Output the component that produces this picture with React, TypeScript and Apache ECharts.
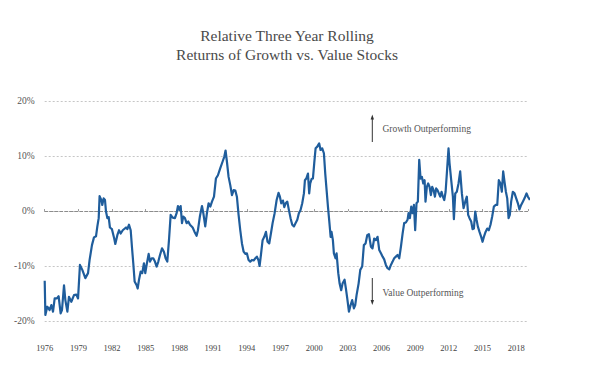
import React, { useEffect, useRef } from 'react';
import * as echarts from 'echarts';

const titleLines = ['Relative Three Year Rolling', 'Returns of Growth vs. Value Stocks'];
const annotationLabels = ['Growth Outperforming', 'Value Outperforming'];
const yTickValues = [-20, -10, 0, 10, 20];

const years = [
  1976.00, 1976.06, 1976.23, 1976.44, 1976.59, 1976.74, 1976.89, 1977.09, 1977.24, 1977.42,
  1977.54, 1977.72, 1977.84, 1978.02, 1978.16, 1978.37, 1978.61, 1978.82, 1978.97, 1979.14,
  1979.35, 1979.62, 1979.86, 1980.00, 1980.21, 1980.39, 1980.57, 1980.69, 1980.81, 1980.89,
  1981.04, 1981.13, 1981.25, 1981.37, 1981.46, 1981.58, 1981.70, 1981.81, 1981.99, 1982.17,
  1982.29, 1982.47, 1982.62, 1982.77, 1982.95,
  1983.24, 1983.36, 1983.51, 1983.66, 1983.77, 1983.89, 1984.01, 1984.19, 1984.28, 1984.40,
  1984.55, 1984.69, 1984.84, 1984.96, 1985.08, 1985.26, 1985.38, 1985.53, 1985.67, 1985.82,
  1985.97, 1986.12, 1986.27, 1986.45, 1986.62, 1986.77, 1986.92, 1987.07, 1987.22, 1987.40,
  1987.60, 1987.75, 1987.87, 1987.99, 1988.11, 1988.23, 1988.34, 1988.49, 1988.64, 1988.79,
  1988.94, 1989.18, 1989.35, 1989.53, 1989.65, 1989.83, 1990.01, 1990.13, 1990.30,
  1990.45, 1990.60, 1990.75, 1990.90, 1991.08, 1991.25, 1991.43, 1991.64, 1991.85, 1992.00,
  1992.11, 1992.23, 1992.38, 1992.53, 1992.68, 1992.83, 1992.98, 1993.12, 1993.27, 1993.42,
  1993.57, 1993.72, 1993.87, 1994.01, 1994.16, 1994.31, 1994.46, 1994.61, 1994.76, 1994.90,
  1995.05, 1995.14, 1995.26, 1995.41, 1995.56, 1995.71, 1995.85, 1996.00, 1996.15, 1996.30,
  1996.48, 1996.66, 1996.83, 1996.95, 1997.07, 1997.22, 1997.34, 1997.46,
  1997.61, 1997.75, 1997.90, 1998.05, 1998.20, 1998.35, 1998.50, 1998.64, 1998.79, 1998.94,
  1999.09, 1999.18, 1999.30, 1999.45, 1999.56, 1999.65, 1999.77, 1999.89, 2000.01, 2000.13,
  2000.28, 2000.45, 2000.57, 2000.72, 2000.87, 2000.99, 2001.11, 2001.23, 2001.35, 2001.47,
  2001.55, 2001.67, 2001.76, 2001.91, 2002.00, 2002.15, 2002.27, 2002.41, 2002.53, 2002.71,
  2002.83, 2002.95, 2003.10, 2003.25, 2003.39, 2003.54, 2003.66, 2003.78, 2003.96, 2004.11,
  2004.28, 2004.43, 2004.58, 2004.73, 2004.88,
  2005.06, 2005.20, 2005.35, 2005.50, 2005.65, 2005.80, 2005.95, 2006.10, 2006.24, 2006.39,
  2006.54, 2006.69, 2006.84, 2006.99, 2007.13, 2007.28, 2007.43, 2007.58, 2007.73, 2007.88,
  2008.02, 2008.17, 2008.32, 2008.41, 2008.53, 2008.65, 2008.77, 2008.89, 2009.00, 2009.12,
  2009.24, 2009.36, 2009.48, 2009.60, 2009.72, 2009.84, 2009.92, 2010.04, 2010.16, 2010.28,
  2010.40, 2010.52, 2010.64, 2010.76, 2010.87, 2010.99, 2011.11, 2011.23, 2011.35, 2011.47,
  2011.59, 2011.71, 2011.82, 2011.97,
  2012.06, 2012.21, 2012.36, 2012.45, 2012.57, 2012.71, 2012.86, 2013.01, 2013.16, 2013.31,
  2013.46, 2013.60, 2013.72, 2013.84, 2013.99, 2014.11, 2014.23, 2014.35, 2014.47, 2014.58,
  2014.73, 2014.88, 2015.00, 2015.12, 2015.27, 2015.42, 2015.56, 2015.71, 2015.86, 2016.01,
  2016.16, 2016.31, 2016.45, 2016.60, 2016.72, 2016.84, 2016.96, 2017.08, 2017.20, 2017.32,
  2017.43, 2017.55, 2017.70, 2017.85, 2018.00, 2018.15, 2018.29, 2018.44, 2018.59, 2018.74,
  2018.92, 2019.04, 2019.22,
];

const returns = [
  -12.7, -18.9, -17.4, -18.0, -17.1, -18.3, -15.9, -15.9, -15.5, -18.6,
  -18.0, -13.5, -16.2, -18.3, -15.6, -16.5, -15.3, -15.2, -15.9, -9.8,
  -10.7, -12.2, -11.3, -8.9, -6.2, -4.8, -4.6, -2.8, -1.3, 2.7,
  2.0, 1.1, 2.3, 2.0, -0.1, -1.3, -1.1, -3.0, -3.3, -4.8,
  -6.0, -4.4, -3.5, -4.1, -3.5,
  -3.0, -3.3, -2.5, -3.5, -6.5, -9.5, -12.8, -13.5, -14.1, -12.5,
  -11.0, -11.3, -9.5, -11.3, -9.8, -7.8, -9.2, -8.6, -8.6, -9.2,
  -10.1, -9.2, -8.0, -6.8, -7.4, -8.6, -9.2, -5.3, -0.7, -1.2,
  -1.3, -0.4, 0.9, 0.2, 0.9, -2.2, -1.0, -1.3, -2.2, -1.9,
  -2.5, -3.0, -3.8, -4.5, -3.5, -0.9, 0.9, -0.4, -2.8,
  -0.4, 1.4, 0.8, 1.7, 2.6, 5.9, 6.5, 7.8, 9.0, 9.9,
  11.0, 9.0, 6.2, 4.7, 2.9, 3.8, 3.7, 2.6, -0.7, -3.5,
  -5.9, -7.4, -7.8, -7.7, -8.9, -9.2, -8.9, -9.0, -8.6, -8.3,
  -9.0, -10.0, -8.0, -5.3, -4.7, -3.8, -5.6, -5.9, -4.1, -2.2,
  -0.4, 2.0, 3.3, 2.6, 1.4, 1.9, 0.7, 1.4,
  1.7, 0.2, -1.3, -2.5, -2.8, -2.2, -1.6, -0.4, 0.2, 1.4,
  3.2, 5.6, 5.9, 6.8, 3.2, 5.0, 5.8, 5.9, 8.7, 11.4,
  11.7, 12.3, 11.1, 11.4, 10.5, 6.8, 3.8, 0.8, -1.9, -4.7,
  -3.8, -5.3, -7.7, -8.6, -7.7, -11.3, -13.2, -14.4, -13.2, -12.5,
  -14.1, -15.9, -18.3, -17.1, -16.2, -17.7, -17.1, -15.3, -13.2, -10.7,
  -10.1, -6.2, -5.9, -4.4, -4.2,
  -6.5, -6.8, -5.0, -5.3, -4.7, -7.1, -7.7, -8.3, -8.8, -9.8,
  -10.4, -10.6, -9.8, -9.2, -8.6, -8.3, -8.0, -8.6, -6.5, -4.1,
  -2.2, -2.1, -1.6, -0.4, -1.3, 0.8, -0.4, 1.1, -3.5, 1.4,
  1.7, 9.3, 5.9, 6.2, 5.0, 5.6, 1.7, 4.4, 5.0, 4.4,
  2.9, 4.4, 3.8, 2.6, 4.1, 3.8, 3.2, 2.6, 3.5, 2.6,
  2.0, 3.5, 6.8, 11.4,
  8.7, 5.6, 2.6, -1.5, 3.2, 3.5, 5.0, 7.2, 3.2, 0.5,
  1.7, 2.6, -0.7, -1.3, -1.9, -3.3, -3.2, -0.1, -1.6, -2.8,
  -3.8, -4.7, -5.6, -4.7, -3.8, -3.2, -3.5, -2.5, -1.0, 0.8,
  1.1, 1.1, 5.6, 5.0, 3.5, 7.2, 5.3, 3.5, 2.3, -1.3,
  -0.7, 1.7, 3.5, 3.2, 2.3, 1.4, 0.3, 1.1, 1.7, 2.3,
  3.2, 2.6, 2.0,
];

const X_MIN = 1976;
const X_MAX = 2019.05;
const X_STEP = 3;
const SERIF = 'Liberation Serif';

export default function App() {
  const ref = useRef<HTMLDivElement>(null);

  useEffect(() => {
    document.body.style.margin = '0';
    const chart = echarts.init(ref.current as HTMLDivElement, null, { renderer: 'svg' });
    const data = years.map((y, i) => [y, returns[i]]);
    const xFormatter = (v: number) =>
      Math.abs((v - X_MIN) / X_STEP - Math.round((v - X_MIN) / X_STEP)) < 1e-6 ? String(Math.round(v)) : '';

    const textStyle = (text: string, size: number, fill: string, align: string) => ({
      text,
      fontFamily: SERIF,
      fontSize: size,
      fill,
      textAlign: align,
      textVerticalAlign: 'middle',
    });

    chart.setOption({
      animation: false,
      backgroundColor: '#ffffff',
      textStyle: { fontFamily: SERIF },
      grid: { left: 44.7, right: 66, top: 101, bottom: 56, containLabel: false },
      xAxis: [
        {
          type: 'value',
          min: X_MIN,
          max: X_MAX,
          interval: X_STEP,
          axisLine: { show: false, onZero: false },
          axisTick: { show: false },
          splitLine: { show: false },
          axisLabel: {
            formatter: xFormatter,
            fontFamily: SERIF,
            fontSize: 8.5,
            color: '#444',
            margin: 22,
            showMaxLabel: false,
          },
        },
        {
          type: 'value',
          min: X_MIN,
          max: X_MAX,
          interval: X_STEP,
          position: 'bottom',
          axisLine: { show: true, onZero: true, lineStyle: { color: '#8c8c8c', type: [3, 2], width: 1 } },
          axisTick: { show: true, inside: true, length: 2, lineStyle: { color: '#a0a0a0' } },
          axisLabel: { show: false },
          splitLine: { show: false },
        },
      ],
      yAxis: {
        type: 'value',
        min: yTickValues[0],
        max: yTickValues[yTickValues.length - 1],
        interval: 10,
        axisLine: { show: false },
        axisTick: { show: false },
        axisLabel: {
          formatter: '{value}%',
          fontFamily: SERIF,
          fontSize: 9.5,
          color: '#555',
          margin: 10,
        },
        splitLine: { show: true, lineStyle: { color: '#c6c6c6', type: [2, 2], width: 1 } },
      },
      series: [
        {
          type: 'line',
          xAxisIndex: 0,
          data,
          showSymbol: false,
          symbol: 'none',
          clip: false,
          z: 5,
          lineStyle: { color: '#1f5d9c', width: 2.2, join: 'round' },
        },
      ],
      graphic: [
        { type: 'text', x: 287, y: 35, style: textStyle(titleLines[0], 15.5, '#4a4a4a', 'center') },
        { type: 'text', x: 287, y: 54, style: textStyle(titleLines[1], 15.5, '#4a4a4a', 'center') },
        {
          type: 'line',
          shape: { x1: 372.3, y1: 142, x2: 372.3, y2: 118 },
          style: { stroke: '#333', lineWidth: 1 },
        },
        {
          type: 'polygon',
          shape: { points: [[372.3, 114.5], [370.6, 119.5], [374, 119.5]] },
          style: { fill: '#333' },
        },
        { type: 'text', x: 382.5, y: 128.5, style: textStyle(annotationLabels[0], 9.5, '#555', 'left') },
        {
          type: 'line',
          shape: { x1: 372.3, y1: 278, x2: 372.3, y2: 301 },
          style: { stroke: '#333', lineWidth: 1 },
        },
        {
          type: 'polygon',
          shape: { points: [[372.3, 305], [370.6, 300], [374, 300]] },
          style: { fill: '#333' },
        },
        { type: 'text', x: 382.5, y: 292.5, style: textStyle(annotationLabels[1], 9.5, '#555', 'left') },
      ],
    });

    return () => chart.dispose();
  }, []);

  return <div ref={ref} style={{ width: 594, height: 377 }} />;
}
